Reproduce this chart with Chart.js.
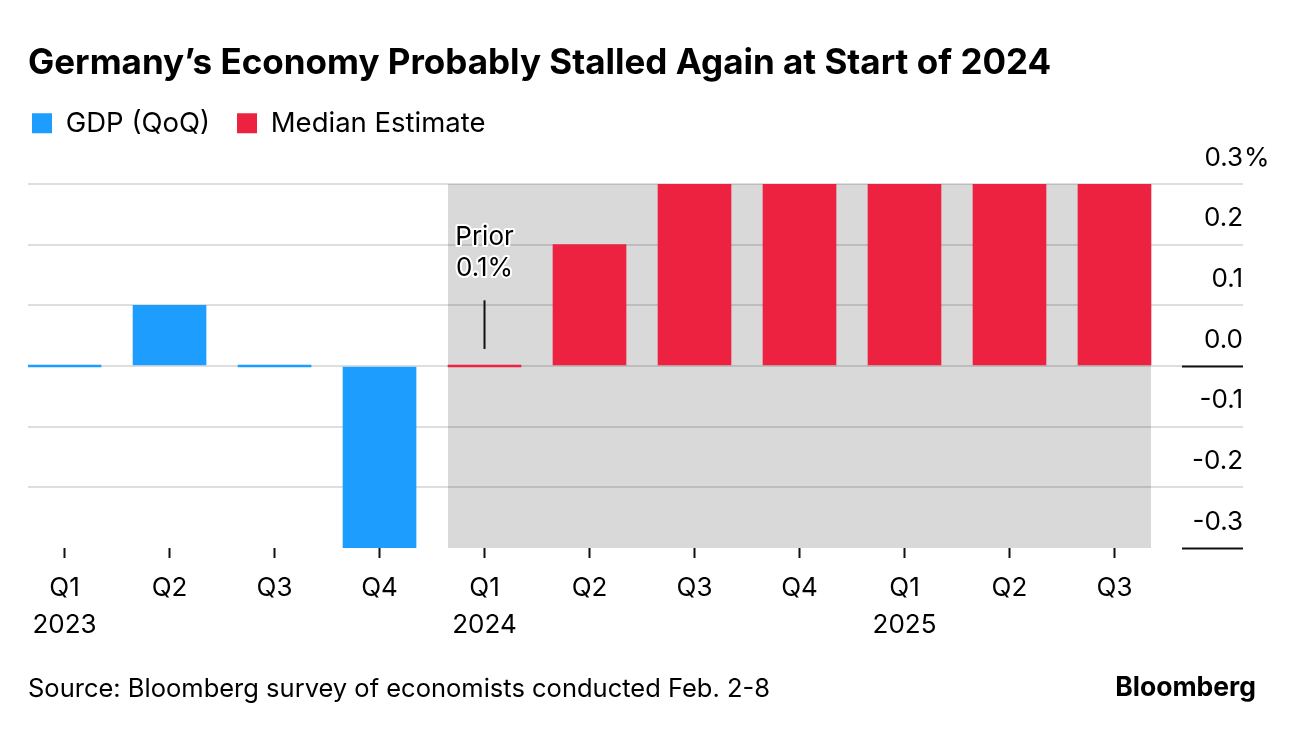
<!DOCTYPE html>
<html>
<head>
<meta charset="utf-8">
<script src="https://cdn.jsdelivr.net/npm/chart.js@4.4.1/dist/chart.umd.min.js"></script>
<style>
  html, body { margin: 0; padding: 0; background: #fff; }
  #wrap { width: 1296px; height: 732px; position: relative; }
</style>
</head>
<body>
<div id="wrap"><canvas id="gdpChart"></canvas></div>
<script>
const quarters = ["Q1", "Q2", "Q3", "Q4", "Q1", "Q2", "Q3", "Q4", "Q1", "Q2", "Q3"];
const years = ["2023", "", "", "", "2024", "", "", "", "2025", "", ""];
const gdpValues = [0.0, 0.1, 0.0, -0.3, null, null, null, null, null, null, null];
const estimateValues = [null, null, null, null, 0.0, 0.2, 0.3, 0.3, 0.3, 0.3, 0.3];
const yTicks = [-0.3, -0.2, -0.1, 0.0, 0.1, 0.2, 0.3];
const forecastStart = 4;
const forecastEnd = 10;
const priorIndex = 4;
const priorValue = 0.1;
const priorLines = ["Prior", "0.1%"];
const titleText = "Germany’s Economy Probably Stalled Again at Start of 2024";
const sourceText = "Source: Bloomberg survey of economists conducted Feb. 2-8";
const brandText = "Bloomberg";

const BLUE = "#1d9dfd";
const RED = "#ec2240";
const FONT = "Inter, 'Liberation Sans', sans-serif";
const BAR = 73;

const toPoints = vals => vals.map((v, i) => ({ x: i, y: v }));

const extras = {
  id: "extras",
  afterLayout(chart) {
    // legend padding also pushes the first swatch right; pull it back under the title
    chart.legend.left -= 23;
  },
  beforeDraw(chart) {
    const { ctx, chartArea: a, scales: { x } } = chart;
    const l = x.getPixelForValue(forecastStart) - BAR / 2;
    const r = x.getPixelForValue(forecastEnd) + BAR / 2;
    ctx.save();
    ctx.fillStyle = "#d9d9d9";
    ctx.fillRect(l, a.top, r - l, a.bottom - a.top);
    ctx.restore();
  },
  afterDraw(chart) {
    const { ctx, chartArea: a, scales: { x, y } } = chart;
    ctx.save();

    // short dark rules under 0.0 and -0.3 on the axis side
    ctx.strokeStyle = "#111";
    ctx.lineWidth = 2;
    [0, -0.3].forEach(v => {
      const py = Math.round(y.getPixelForValue(v)) + 0.5;
      ctx.beginPath();
      ctx.moveTo(a.right - 61, py);
      ctx.lineTo(a.right, py);
      ctx.stroke();
    });

    // unit on the top label
    ctx.fillStyle = "#000";
    ctx.font = "26px " + FONT;
    ctx.textAlign = "left";
    ctx.textBaseline = "middle";
    ctx.fillText("%", a.right + 1, y.getPixelForValue(0.3) - 26);

    // prior annotation
    const px = x.getPixelForValue(priorIndex);
    const top = y.getPixelForValue(priorValue) - 5;
    const bottom = y.getPixelForValue(0) - 17;
    ctx.lineWidth = 2;
    ctx.strokeStyle = "#111";
    ctx.beginPath();
    ctx.moveTo(px, top);
    ctx.lineTo(px, bottom);
    ctx.stroke();
    ctx.textAlign = "center";
    ctx.lineJoin = "round";
    priorLines.forEach((t, i) => {
      const ty = top - 63 + i * 31;
      ctx.strokeStyle = "#fff";
      ctx.lineWidth = 4;
      ctx.strokeText(t, px, ty);
      ctx.fillStyle = "#000";
      ctx.fillText(t, px, ty);
    });

    // brand
    ctx.font = "bold 26.5px " + FONT;
    ctx.textAlign = "right";
    ctx.fillText(brandText, 1256, 688);
    ctx.restore();
  }
};

new Chart(document.getElementById("gdpChart"), {
  type: "bar",
  data: {
    datasets: [
      { label: "GDP (QoQ)", data: toPoints(gdpValues), backgroundColor: BLUE },
      { label: "Median Estimate", data: toPoints(estimateValues), backgroundColor: RED }
    ]
  },
  options: {
    responsive: true,
    maintainAspectRatio: false,
    animation: false,
    skipNull: true,
    barThickness: BAR,
    minBarLength: 2,
    borderWidth: 0,
    layout: { padding: { top: 0, left: 28, right: 53, bottom: 0 } },
    scales: {
      x: {
        type: "linear",
        offset: false,
        min: -0.348,
        max: 11.224,
        afterBuildTicks: s => { s.ticks = quarters.map((_, i) => ({ value: i })); },
        ticks: {
          autoSkip: false,
          maxRotation: 0,
          padding: 11.5,
          color: "#000",
          font: { family: FONT, size: 26, lineHeight: 37 / 26 },
          callback: v => years[v] ? [quarters[v], years[v]] : quarters[v]
        },
        grid: {
          offset: false,
          drawOnChartArea: false,
          drawTicks: true,
          tickLength: 10,
          tickWidth: 2,
          color: "#111"
        },
        border: { display: false },
        title: {
          display: true,
          text: sourceText,
          align: "start",
          color: "#000",
          font: { family: FONT, size: 25.5, lineHeight: 1.2 },
          padding: { top: 19.4, bottom: 27 }
        }
      },
      y: {
        position: "right",
        min: -0.3,
        max: 0.3,
        afterBuildTicks: s => { s.ticks = yTicks.map(v => ({ value: v })); },
        ticks: {
          mirror: true,
          padding: 0,
          labelOffset: -26,
          color: "#000",
          font: { family: FONT, size: 26 },
          callback: v => v.toFixed(1)
        },
        grid: {
          drawTicks: false,
          lineWidth: 2,
          color: c => Math.abs(c.tick.value + 0.3) < 1e-6 ? "rgba(0,0,0,0)" : "rgba(0,0,0,0.13)"
        },
        border: { display: false }
      }
    },
    plugins: {
      title: {
        display: true,
        text: titleText,
        align: "start",
        color: "#000",
        font: { family: FONT, size: 35, weight: "bold", lineHeight: 1.1 },
        padding: { top: 44, bottom: 0 }
      },
      legend: {
        display: true,
        align: "start",
        labels: {
          boxWidth: 20,
          boxHeight: 20,
          padding: 27,
          color: "#000",
          font: { family: FONT, size: 27.5 }
        }
      },
      subtitle: {
        display: true,
        text: "",
        weight: 500,
        font: { size: 10, lineHeight: 1 },
        padding: { top: 27, bottom: 0 }
      },
      tooltip: { enabled: false }
    }
  },
  plugins: [extras]
});
</script>
</body>
</html>
